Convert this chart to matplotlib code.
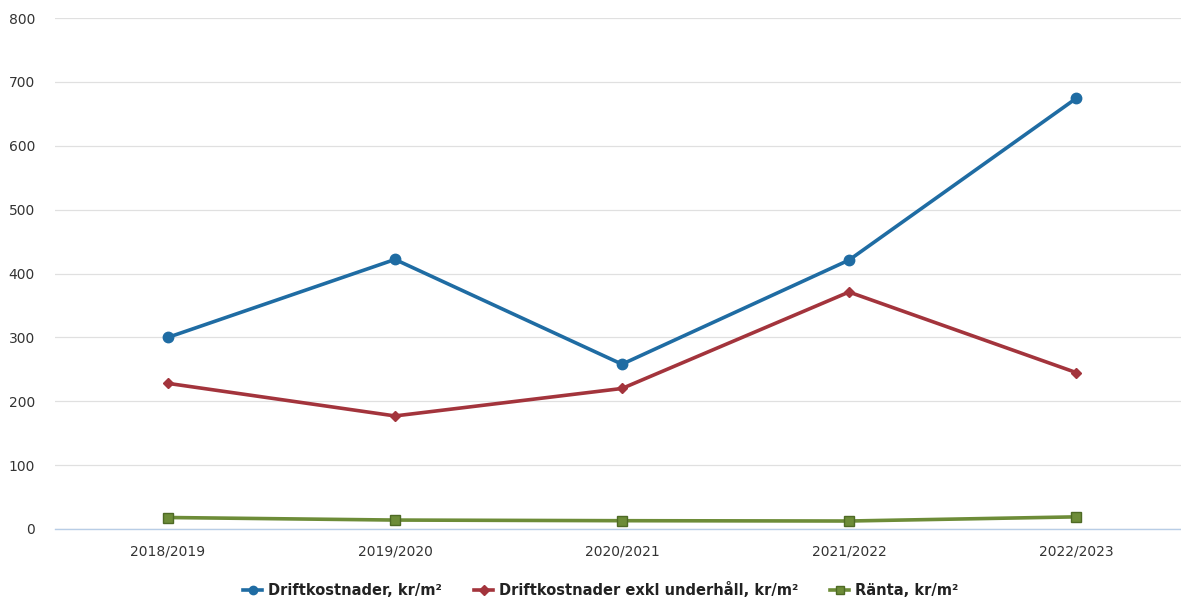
import matplotlib
matplotlib.use("Agg")
import matplotlib.pyplot as plt
from matplotlib.lines import Line2D

categories = ["2018/2019", "2019/2020", "2020/2021", "2021/2022", "2022/2023"]
drift = [300, 422, 258, 421, 674]
drift_exkl = [228, 177, 220, 371, 245]
ranta = [18, 14, 13, 12.5, 19]
yticks = [0, 100, 200, 300, 400, 500, 600, 700, 800]

labels = ["Driftkostnader, kr/m²", "Driftkostnader exkl underhåll, kr/m²", "Ränta, kr/m²"]
colors = ["#1f6ca3", "#a3343c", "#6d8c38"]

fig = plt.figure(figsize=(11.81, 6.01), dpi=100)
ax = fig.add_axes([54.5 / 1181, 1 - 529 / 601, 1135 / 1181, (529 - 18) / 601])

x = list(range(len(categories)))
ax.plot(x, drift, color=colors[0], lw=2.6, marker="o", ms=7.5, zorder=3)
ax.plot(x, drift_exkl, color=colors[1], lw=2.6, marker="D", ms=5.5, zorder=3)
ax.plot(x, ranta, color=colors[2], lw=2.6, marker="s", ms=7,
        markeredgecolor="#4e6a25", zorder=3)

ax.set_xlim(-0.5, len(categories) - 0.5)
ax.set_ylim(0, 800)
ax.set_yticks(yticks)
ax.set_yticklabels([str(v) for v in yticks])
ax.set_xticks(x)
ax.set_xticklabels(categories)

for s in ["top", "right", "left"]:
    ax.spines[s].set_visible(False)
ax.spines["bottom"].set_color("#b8cde6")
ax.spines["bottom"].set_linewidth(1.0)
ax.grid(axis="y", color="#e0e0e0", lw=0.9)
ax.set_axisbelow(True)
ax.tick_params(axis="both", length=0, labelsize=10, colors="#333333")
ax.tick_params(axis="y", pad=14)
ax.tick_params(axis="x", pad=11)

handles = [
    Line2D([0], [0], color=colors[0], lw=2.6, marker="o", ms=6),
    Line2D([0], [0], color=colors[1], lw=2.6, marker="D", ms=5),
    Line2D([0], [0], color=colors[2], lw=2.6, marker="s", ms=6, markeredgecolor="#4e6a25"),
]
fig.legend(handles, labels, loc="center", bbox_to_anchor=(601 / 1181, 1 - 590 / 601),
           ncol=3, frameon=False, handlelength=1.3, handletextpad=0.4, columnspacing=2.2,
           prop={"weight": "bold", "size": 10.5}, labelcolor="#222222")

fig.savefig("out.png", dpi=100, facecolor="white")
